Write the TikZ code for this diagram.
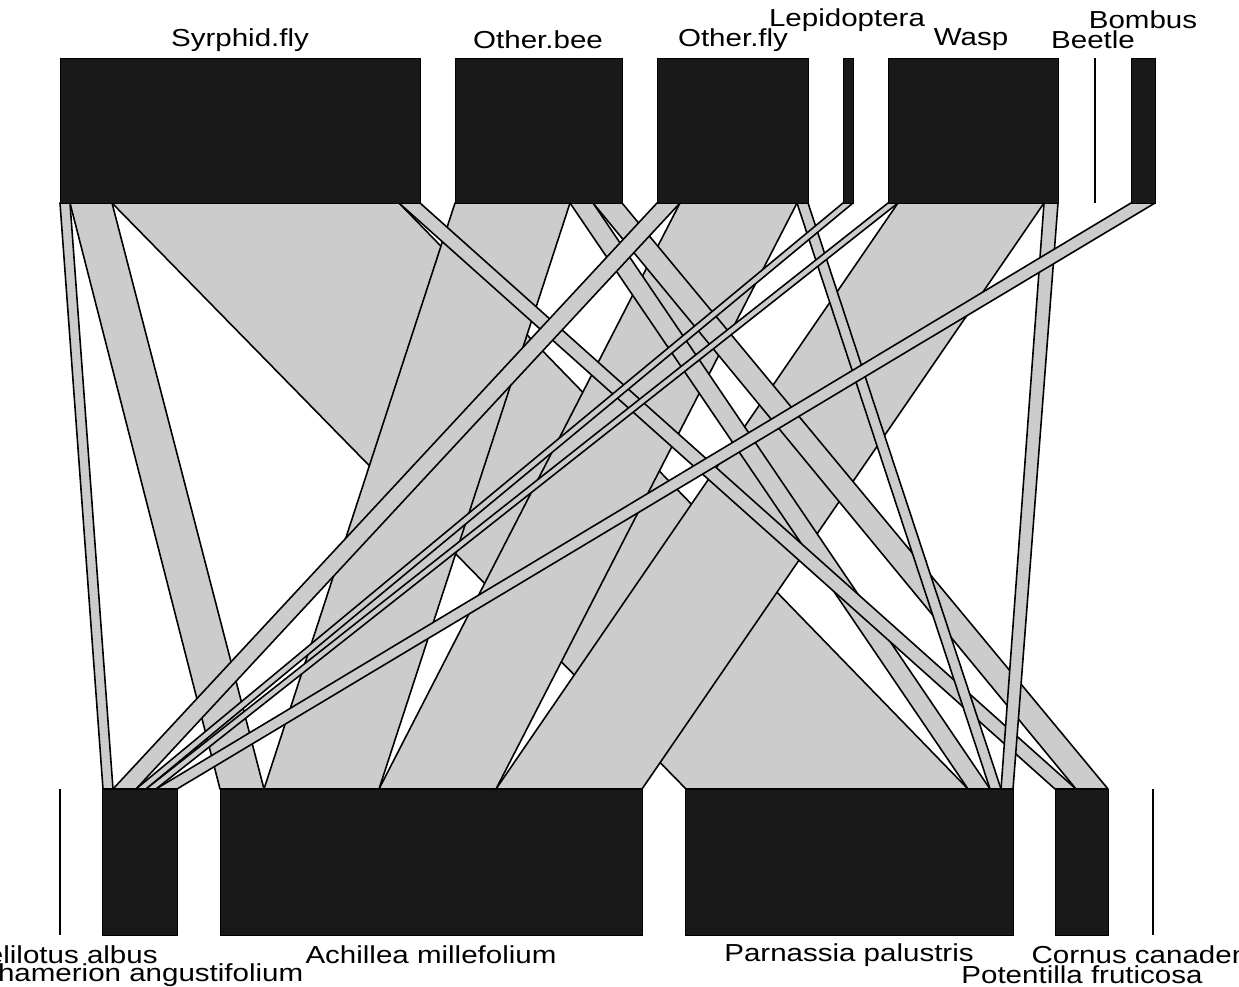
\documentclass[tikz,border=0pt]{standalone}
\usepackage{fontspec}
\setmainfont{Liberation Sans}

\tikzset{
  link/.style={draw=black, fill=black!20, line width=0.9pt, line join=round},
  box/.style={draw=black, fill=black!90, line width=0.5pt},
  lab/.style={font=\fontsize{14}{16}\selectfont, xscale=1.2, inner sep=0pt}
}

\begin{document}
\begin{tikzpicture}[x=0.02cm, y=-0.02cm]
	\useasboundingbox (0,0) rectangle (1239,986);
	\clip (0,0) rectangle (1239,986);

	% links: top left / top right / bottom left / bottom right
	\foreach \a/\b/\c/\d in {112/399/686/968, 898/1044/496/642, 680/797/379/496,
		455/570/264/379, 70/112/220/264, 570/593/968/990, 593/622/1076/1108,
		399/420/1055/1076, 797/808/990/1001, 1044/1058/1001/1013, 60/70/103/113,
		657/680/113/136, 843/853/136/146, 888/898/146/156, 1131/1155/156/177}
		\draw [link] (\a,203) -- (\b,203) -- (\d,789) -- (\c,789) -- cycle;

	% upper boxes
	\foreach \l/\r in {60/420, 455/622, 657/808, 843/853, 888/1058, 1131/1155}
		\draw [box] (\l,58) rectangle (\r,203);
	\draw [line width=0.9pt] (1095,58) -- (1095,203);

	% lower boxes
	\foreach \l/\r in {102/177, 220/642, 685/1013, 1055/1108}
		\draw [box] (\l,789) rectangle (\r,935);
	\draw [line width=0.9pt] (60,789) -- (60,935);
	\draw [line width=0.9pt] (1153,789) -- (1153,935);

	\node [lab] (syrphid) at (240,40) {Syrphid.fly};
	\node [lab] (otherbee) at (538,40) {Other.bee};
	\node [lab] (otherfly) at (733,40) {Other.fly};
	\node [lab] (lepidoptera) at (847,20) {Lepidoptera};
	\node [lab] (wasp) at (971,40) {Wasp};
	\node [lab] (beetle) at (1093,40) {Beetle};
	\node [lab] (bombus) at (1143,20) {Bombus};

	\node [lab] (melilotus) at (60,955) {Melilotus albus};
	\node [lab] (chamerion) at (140,975) {Chamerion angustifolium};
	\node [lab] (achillea) at (431,955) {Achillea millefolium};
	\node [lab] (parnassia) at (849,955) {Parnassia palustris};
	\node [lab] (cornus) at (1158,955) {Cornus canadensis};
	\node [lab] (potentilla) at (1082,975) {Potentilla fruticosa};
\end{tikzpicture}
\end{document}
